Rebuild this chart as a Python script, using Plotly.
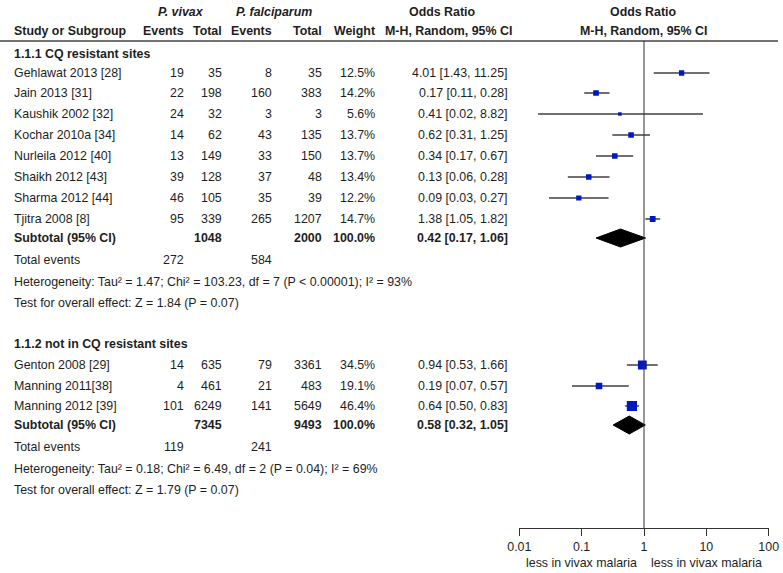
import math
import plotly.graph_objects as go

# ---------------- data ----------------
studies1 = ["Gehlawat 2013 [28]", "Jain 2013 [31]", "Kaushik 2002 [32]", "Kochar 2010a [34]",
            "Nurleila 2012 [40]", "Shaikh 2012 [43]", "Sharma 2012 [44]", "Tjitra 2008 [8]"]
viv_ev1 = [19, 22, 24, 14, 13, 39, 46, 95]
viv_tot1 = [35, 198, 32, 62, 149, 128, 105, 339]
fal_ev1 = [8, 160, 3, 43, 33, 37, 35, 265]
fal_tot1 = [35, 383, 3, 135, 150, 48, 39, 1207]
weight1 = [12.5, 14.2, 5.6, 13.7, 13.7, 13.4, 12.2, 14.7]
or1 = [4.01, 0.17, 0.41, 0.62, 0.34, 0.13, 0.09, 1.38]
lo1 = [1.43, 0.11, 0.02, 0.31, 0.17, 0.06, 0.03, 1.05]
hi1 = [11.25, 0.28, 8.82, 1.25, 0.67, 0.28, 0.27, 1.82]
sub1 = {"viv_tot": 1048, "fal_tot": 2000, "weight": 100.0, "or": 0.42, "lo": 0.17, "hi": 1.06,
        "viv_ev": 272, "fal_ev": 584}
het1 = "Heterogeneity: Tau² = 1.47; Chi² = 103.23, df = 7 (P < 0.00001); I² = 93%"
test1 = "Test for overall effect: Z = 1.84 (P = 0.07)"

studies2 = ["Genton 2008 [29]", "Manning 2011[38]", "Manning 2012 [39]"]
viv_ev2 = [14, 4, 101]
viv_tot2 = [635, 461, 6249]
fal_ev2 = [79, 21, 141]
fal_tot2 = [3361, 483, 5649]
weight2 = [34.5, 19.1, 46.4]
or2 = [0.94, 0.19, 0.64]
lo2 = [0.53, 0.07, 0.50]
hi2 = [1.66, 0.57, 0.83]
sub2 = {"viv_tot": 7345, "fal_tot": 9493, "weight": 100.0, "or": 0.58, "lo": 0.32, "hi": 1.05,
        "viv_ev": 119, "fal_ev": 241}
het2 = "Heterogeneity: Tau² = 0.18; Chi² = 6.49, df = 2 (P = 0.04); I² = 69%"
test2 = "Test for overall effect: Z = 1.79 (P = 0.07)"

group_titles = ["1.1.1 CQ resistant sites", "1.1.2 not in CQ resistant sites"]
tick_vals = [0.01, 0.1, 1, 10, 100]
tick_text = ["0.01", "0.1", "1", "10", "100"]
favours = ["less in vivax malaria", "less in vivax malaria"]

# ---------------- layout constants ----------------
W, H = 783, 573
FONT = "Liberation Sans"
FS = 12.4
TXT = "#1e1e1e"
AXIS_Y = 528
HEAD_LINE_Y = 41

# row positions (pixels from top)
rows1 = [73, 93, 114, 135, 156, 177, 198, 219]
sub1_y = 238
tot1_y, het1_y, test1_y = 260, 282, 303
title1_y = 54
title2_y = 344
rows2 = [365, 386, 406]
sub2_y = 425
tot2_y, het2_y, test2_y = 447, 469, 490

# column right edges
C_VE, C_VT, C_FE, C_FT, C_W, C_OR = 185, 223, 273, 323, 376, 509
C_LEFT = 13

fig = go.Figure()
ann = []


def txt(x, y, s, anchor="left", bold=False, italic=False):
    if italic:
        s = "<i>" + s + "</i>"
    if bold:
        s = "<b>" + s + "</b>"
    ann.append(dict(x=x / W, xref="paper", y=y, yref="y", text=s, showarrow=False,
                    xanchor=anchor, yanchor="middle", font=dict(family=FONT, size=FS, color=TXT),
                    borderpad=0))


# headers
txt(181, 12, "P. vivax", "center", bold=True, italic=True)
txt(274, 12, "P. falciparum", "center", bold=True, italic=True)
txt(442, 12, "Odds Ratio", "center", bold=True)
txt(643, 12, "Odds Ratio", "center", bold=True)
txt(C_LEFT, 31, "Study or Subgroup", "left", bold=True)
txt(C_VE, 31, "Events", "right", bold=True)
txt(C_VT, 31, "Total", "right", bold=True)
txt(C_FE, 31, "Events", "right", bold=True)
txt(C_FT, 31, "Total", "right", bold=True)
txt(C_W, 31, "Weight", "right", bold=True)
txt(448, 31, "M-H, Random, 95% CI", "center", bold=True)
txt(643, 31, "M-H, Random, 95% CI", "center", bold=True)


def group(title, title_y, studies, ve, vt, fe, ft, w, orr, lo, hi, rows, sub, sub_y,
          tot_y, het, het_y, test, test_y):
    txt(C_LEFT, title_y, title, bold=True)
    for i, s in enumerate(studies):
        y = rows[i]
        txt(C_LEFT, y, s)
        txt(C_VE, y, str(ve[i]), "right")
        txt(C_VT, y, str(vt[i]), "right")
        txt(C_FE, y, str(fe[i]), "right")
        txt(C_FT, y, str(ft[i]), "right")
        txt(C_W, y, f"{w[i]:.1f}%", "right")
        txt(C_OR, y, f"{orr[i]:.2f} [{lo[i]:.2f}, {hi[i]:.2f}]", "right")
    txt(C_LEFT, sub_y, "Subtotal (95% CI)", bold=True)
    txt(C_VT, sub_y, str(sub["viv_tot"]), "right", bold=True)
    txt(C_FT, sub_y, str(sub["fal_tot"]), "right", bold=True)
    txt(C_W, sub_y, f"{sub['weight']:.1f}%", "right", bold=True)
    txt(C_OR, sub_y, f"{sub['or']:.2f} [{sub['lo']:.2f}, {sub['hi']:.2f}]", "right", bold=True)
    txt(C_LEFT, tot_y, "Total events")
    txt(C_VE, tot_y, str(sub["viv_ev"]), "right")
    txt(C_FE, tot_y, str(sub["fal_ev"]), "right")
    txt(C_LEFT, het_y, het)
    txt(C_LEFT, test_y, test)

    # CI lines
    xs, ys = [], []
    for i in range(len(studies)):
        xs += [lo[i], hi[i], None]
        ys += [rows[i], rows[i], None]
    fig.add_trace(go.Scatter(x=xs, y=ys, mode="lines", line=dict(color="#404040", width=1.5),
                             hoverinfo="skip", showlegend=False))
    # squares
    fig.add_trace(go.Scatter(x=orr, y=rows, mode="markers",
                             marker=dict(symbol="square", color="#0018c0", opacity=1,
                                         size=[1.5 * math.sqrt(v) for v in w], line=dict(width=0)),
                             showlegend=False))
    # diamond
    h = 9
    fig.add_trace(go.Scatter(x=[sub["lo"], sub["or"], sub["hi"], sub["or"], sub["lo"]],
                             y=[sub_y, sub_y - h, sub_y, sub_y + h, sub_y],
                             mode="lines", fill="toself", fillcolor="black",
                             line=dict(color="black", width=1), showlegend=False))


group(group_titles[0], title1_y, studies1, viv_ev1, viv_tot1, fal_ev1, fal_tot1, weight1,
      or1, lo1, hi1, rows1, sub1, sub1_y, tot1_y, het1, het1_y, test1, test1_y)
group(group_titles[1], title2_y, studies2, viv_ev2, viv_tot2, fal_ev2, fal_tot2, weight2,
      or2, lo2, hi2, rows2, sub2, sub2_y, tot2_y, het2, het2_y, test2, test2_y)

# favours labels under the axis, centred on 0.1 and 10
for xv, s in zip([0.1, 10], favours):
    ann.append(dict(x=math.log10(xv), xref="x", y=563, yref="y", text=s, showarrow=False,
                    xanchor="center", yanchor="middle",
                    font=dict(family=FONT, size=FS, color=TXT)))

shapes = [
    dict(type="line", xref="paper", yref="y", x0=0, x1=778 / W, y0=HEAD_LINE_Y, y1=HEAD_LINE_Y,
         line=dict(color="#444", width=1.5)),
    dict(type="line", xref="x", yref="y", x0=1, x1=1, y0=HEAD_LINE_Y, y1=AXIS_Y,
         line=dict(color="#333", width=1)),
]

fig.update_layout(
    width=W, height=H, margin=dict(l=0, r=0, t=0, b=0, autoexpand=False),
    paper_bgcolor="white", plot_bgcolor="white",
    annotations=ann, shapes=shapes, showlegend=False,
    xaxis=dict(type="log", range=[-2, 2], domain=[519.3 / W, 768.7 / W], anchor="free",
               position=(H - AXIS_Y) / H, showline=True, linecolor="#333", linewidth=1,
               ticks="outside", ticklen=7, tickcolor="#333", tickvals=tick_vals,
               ticktext=tick_text, showgrid=False, zeroline=False, automargin=False,
               tickfont=dict(family=FONT, size=FS, color=TXT)),
    yaxis=dict(range=[H, 0], domain=[0, 1], visible=False, showgrid=False, zeroline=False,
               automargin=False),
)

fig.write_html(
    "out.html",
    config={"displayModeBar": False},
    post_script="document.body.style.margin='0';document.body.style.overflow='hidden';",
)
